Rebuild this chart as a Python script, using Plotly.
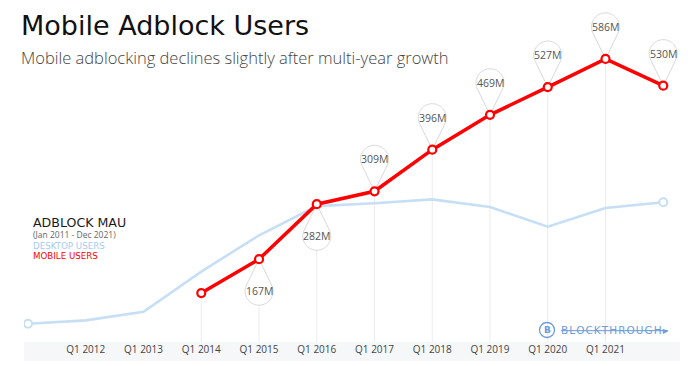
import math
import plotly.graph_objects as go

# ---------------- data ----------------
periods = ["Jan 2011", "Q1 2012", "Q1 2013", "Q1 2014", "Q1 2015", "Q1 2016",
           "Q1 2017", "Q1 2018", "Q1 2019", "Q1 2020", "Q1 2021", "Dec 2021"]
tick_labels = ["", "Q1 2012", "Q1 2013", "Q1 2014", "Q1 2015", "Q1 2016",
               "Q1 2017", "Q1 2018", "Q1 2019", "Q1 2020", "Q1 2021", ""]
desktop_users = [32, 39, 57, 141, 217, 278, 284, 292, 276, 235, 274, 286]
mobile_users = [None, None, None, 96, 167, 282, 309, 396, 469, 527, 586, 530]
mobile_labels = [None, None, None, None, "167M", "282M", "309M", "396M",
                 "469M", "527M", "586M", "530M"]
pin_below = [False, False, False, False, True, True, False, False,
             False, False, False, False]

# ---------------- layout geometry (screen pixels) ----------------
OFF = 8                      # default page body margin
W, H = 700 - OFF, 366 - OFF  # figure size so that page fits the window
L, R, T, B = 24, 680, 8, 342  # plot area in screen pixels
PW, PH = R - L, B - T
PX_PER_M = 0.478
YMIN = -6.3
YMAX = YMIN + PH / PX_PER_M


def px(xp):
    return (xp - L) / PW


def py(yp):
    return (B - yp) / PH


RED = "#ff0000"
BLUE = "#c6dff5"
BLUE_TXT = "#a6ccf0"
LOGO = "#6d9ddb"

fig = go.Figure()

fig.add_trace(go.Scatter(
    x=periods, y=desktop_users, mode="lines",
    line=dict(color=BLUE, width=2.6), hoverinfo="skip", showlegend=False))
fig.add_trace(go.Scatter(
    x=[periods[0], periods[-1]], y=[desktop_users[0], desktop_users[-1]],
    mode="markers",
    marker=dict(size=8, color="white", line=dict(color=BLUE, width=2)),
    hoverinfo="skip", showlegend=False))
fig.add_trace(go.Scatter(
    x=periods, y=mobile_users, mode="lines+markers",
    line=dict(color=RED, width=3.5),
    marker=dict(size=8, color="white", line=dict(color=RED, width=2.2)),
    hoverinfo="skip", showlegend=False))

shapes = []
annotations = []

# axis band
shapes.append(dict(type="rect", xref="paper", yref="paper",
                   x0=0, x1=1, y0=py(361), y1=py(342),
                   fillcolor="#f6f7f9", line=dict(width=0), layer="below"))

# drop lines from mobile points (except last)
for i, v in enumerate(mobile_users):
    if v is None or i == len(mobile_users) - 1:
        continue
    shapes.append(dict(type="line", xref="x", yref="y",
                       x0=periods[i], x1=periods[i], y0=YMIN, y1=v,
                       line=dict(color="#ececec", width=1), layer="below"))


def pin_path(direction, r=14.0, d=32.0, n=40):
    th = math.acos(r / d)
    start = -math.pi / 2 + th
    end = -math.pi / 2 - th + 2 * math.pi
    pts = [(0.0, 0.0)]
    for k in range(n + 1):
        a = start + (end - start) * k / n
        pts.append((r * math.cos(a), direction * (d + r * math.sin(a))))
    return "M " + " L ".join(f"{x:.2f},{y:.2f}" for x, y in pts) + " Z"


for i, lab in enumerate(mobile_labels):
    if lab is None:
        continue
    s = -1 if pin_below[i] else 1
    shapes.append(dict(type="path", xref="x", yref="y",
                       xsizemode="pixel", ysizemode="pixel",
                       xanchor=periods[i], yanchor=mobile_users[i],
                       path=pin_path(s),
                       fillcolor="white", line=dict(color="#d9d9d9", width=1),
                       layer="below"))
    annotations.append(dict(x=periods[i], y=mobile_users[i], xref="x", yref="y",
                            text=lab, showarrow=False, yshift=s * 32,
                            font=dict(family="Open Sans", size=10.5, color="#555555")))


def text_at(xs, ys, text, font, xanchor="left"):
    annotations.append(dict(x=px(xs), y=py(ys), xref="paper", yref="paper",
                            xanchor=xanchor, yanchor="middle", showarrow=False,
                            text=text, font=font))


# titles
text_at(19, 26, "Mobile Adblock Users",
        dict(family="DejaVu Sans", size=27, color="#111111"))
text_at(19, 57, "Mobile adblocking declines slightly after multi-year growth",
        dict(family="Open Sans", size=16.5, color="#444444", weight=300))

# legend block
text_at(31, 222, "ADBLOCK MAU",
        dict(family="DejaVu Sans", size=12.6, color="#1a1a1a"))
text_at(31, 234, "(Jan 2011 - Dec 2021)",
        dict(family="Open Sans", size=8.5, color="#666666"))
text_at(31, 246.5, "DESKTOP USERS",
        dict(family="DejaVu Sans", size=8.7, color=BLUE_TXT))
text_at(31, 256, "MOBILE USERS",
        dict(family="DejaVu Sans", size=8.7, color=RED))

# logo
shapes.append(dict(type="circle", xref="paper", yref="paper",
                   xsizemode="pixel", ysizemode="pixel",
                   xanchor=px(547), yanchor=py(330),
                   x0=-7.5, x1=7.5, y0=-7.5, y1=7.5,
                   line=dict(color=LOGO, width=1.3), fillcolor="rgba(0,0,0,0)"))
text_at(547, 330, "B", dict(family="DejaVu Sans", size=9, color=LOGO, weight=700),
        xanchor="center")
text_at(559, 330,
        "B\u200aL\u200aO\u200aC\u200aK\u200aT\u200aH\u200aR\u200aO\u200aU\u200aG\u200aH\u200a\u25b8",
        dict(family="DejaVu Sans", size=10.5, color=LOGO, lineposition="through"))

fig.update_layout(
    width=W, height=H,
    margin=dict(l=L - OFF, r=700 - R, t=T - OFF, b=366 - B, pad=0),
    paper_bgcolor="white", plot_bgcolor="white",
    shapes=shapes, annotations=annotations,
    xaxis=dict(type="category", categoryorder="array", categoryarray=periods,
               range=[-0.07, 11.29], showgrid=False, zeroline=False,
               showline=False, ticks="",
               tickmode="array", tickvals=periods, ticktext=tick_labels,
               tickfont=dict(family="Open Sans", size=10, color="#444444"),
               fixedrange=True),
    yaxis=dict(range=[YMIN, YMAX], visible=False, fixedrange=True),
    showlegend=False,
)

fig.write_html("out.html")
